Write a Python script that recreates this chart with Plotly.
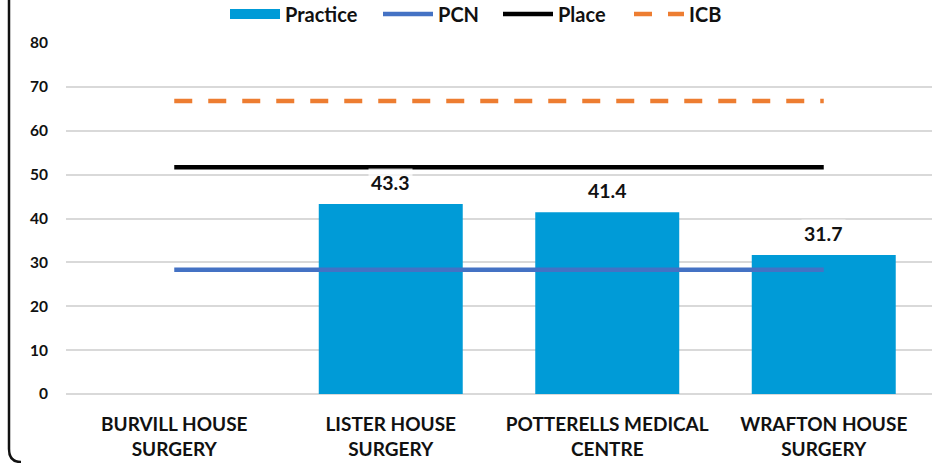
import plotly.graph_objects as go

categories = ["BURVILL HOUSE<br>SURGERY", "LISTER HOUSE<br>SURGERY",
              "POTTERELLS MEDICAL<br>CENTRE", "WRAFTON HOUSE<br>SURGERY"]
practice = [None, 43.3, 41.4, 31.7]
pcn = [28.3, 28.3, 28.3, 28.3]
place = [51.7, 51.7, 51.7, 51.7]
icb = [66.8, 66.8, 66.8, 66.8]
y_ticks = [0, 10, 20, 30, 40, 50, 60, 70, 80]

FONT = "Lato"
TXT = "#111111"
BAR = "#009BD7"
fig = go.Figure()
fig.add_trace(go.Bar(x=categories, y=practice, name="Practice", showlegend=False,
                     marker=dict(color=BAR, line=dict(width=0)), width=0.665))
# legend proxy for the bar (wide rectangle)
fig.add_trace(go.Scatter(x=[None], y=[None], name="Practice", mode="lines",
                         line=dict(color=BAR, width=14), legend="legend"))
fig.add_trace(go.Scatter(x=categories, y=pcn, name="PCN", mode="lines",
                         line=dict(color="#4472C4", width=4.5), legend="legend2"))
fig.add_trace(go.Scatter(x=categories, y=place, name="Place", mode="lines",
                         line=dict(color="#000000", width=4.5), legend="legend3"))
fig.add_trace(go.Scatter(x=categories, y=icb, name="ICB", mode="lines",
                         line=dict(color="#ED7D31", width=4.5, dash="18px,16px"),
                         legend="legend4"))

for c, v in zip(categories, practice):
    if v is None:
        continue
    fig.add_annotation(x=c, y=v, text=f"{v:.1f}", showarrow=False,
                       yanchor="bottom", yshift=7, bgcolor="rgba(255,255,255,0.72)",
                       borderpad=2,
                       font=dict(family=FONT, size=19.5, color=TXT, weight="bold"))

W, H = 941, 463
L, R, T, B = 66, 9, 43, 69
pw, ph = W - L - R, H - T - B
def px(x):
    return (x - L) / pw
def py(y):
    return (H - B - y) / ph

fig.add_shape(type="path", xref="paper", yref="paper",
              path=f"M {px(9)},{py(-5)} L {px(9)},{py(449)} Q {px(9)},{py(462)} {px(21)},{py(462)}",
              line=dict(color="#111111", width=2.5))

def leg(xpix):
    return dict(orientation="h", x=xpix / W, xanchor="left", xref="container",
                y=1 - 14 / H, yanchor="middle", yref="container",
                font=dict(family=FONT, size=20, color=TXT, weight="bold"),
                itemwidth=50, bgcolor="rgba(0,0,0,0)", borderwidth=0)

fig.update_layout(
    width=W, height=H,
    margin=dict(l=L, r=R, t=T, b=B, pad=0, autoexpand=False),
    plot_bgcolor="white", paper_bgcolor="white",
    font=dict(family=FONT, size=17, color=TXT, weight="bold"),
    showlegend=True,
    legend=leg(233 - 8), legend2=leg(386 - 8), legend3=leg(506 - 8), legend4=leg(637 - 8),
    bargap=0.335,
    xaxis=dict(showgrid=False, showline=False, ticks="", automargin=False,
               tickfont=dict(family=FONT, size=19, color=TXT, weight="bold"),
               ticklabelstandoff=17),
    yaxis=dict(range=[0, 80], tickvals=y_ticks, showgrid=True, gridcolor="#D9D9D9",
               gridwidth=1.5, zeroline=True, zerolinecolor="#D9D9D9", zerolinewidth=1.5,
               showline=False, ticks="", ticklabelstandoff=17, automargin=False,
               tickfont=dict(family=FONT, size=15.5, color=TXT, weight="bold")),
)
fig.write_html("out.html", config={"displayModeBar": False},
               post_script="document.body.style.margin='0px';document.body.style.overflow='hidden';")
